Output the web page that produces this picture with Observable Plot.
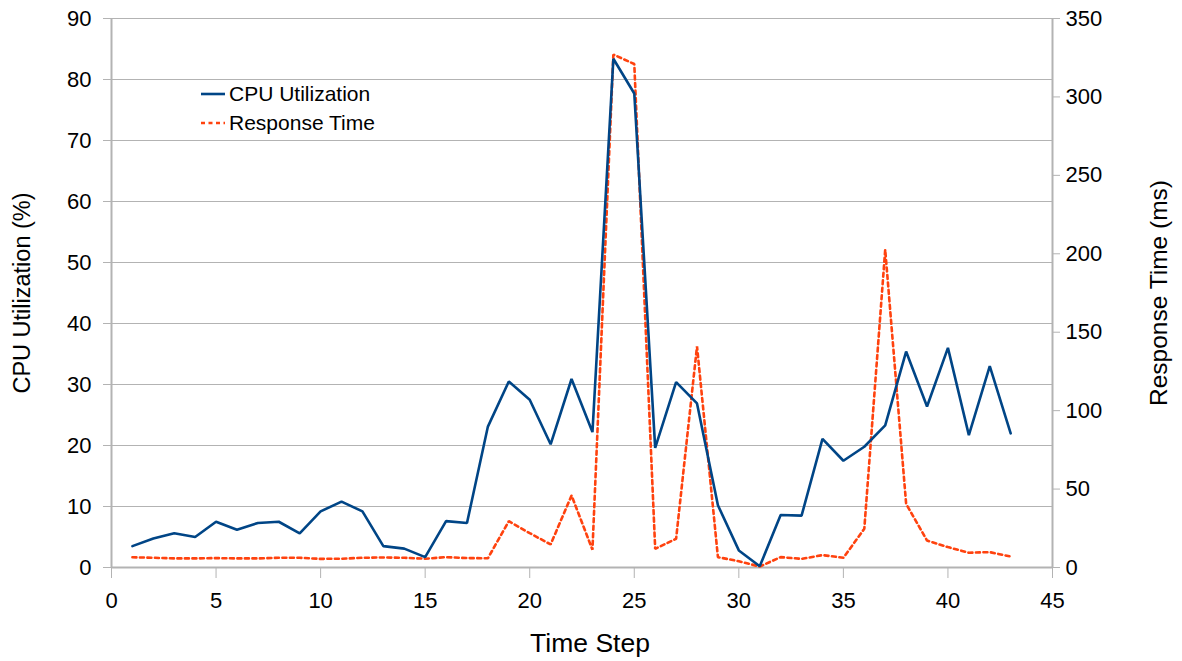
<!DOCTYPE html>
<html>
<head>
<meta charset="utf-8">
<script src="https://cdn.jsdelivr.net/npm/d3@7"></script>
<script src="https://cdn.jsdelivr.net/npm/@observablehq/plot@0.6"></script>
<style>
  html, body { margin: 0; padding: 0; background: #fff; }
  #wrap { position: relative; width: 1182px; height: 661px; font-family: "Liberation Sans", Arial, sans-serif; }
  #legend { position: absolute; left: 201px; top: 79px; font-size: 21px; color: #000; line-height: 29px; }
  #legend div { display: flex; align-items: center; }
  #legend svg { margin-right: 4px; }
</style>
</head>
<body>
<div id="wrap">
  <div id="chart"></div>
  <div id="legend"></div>
</div>
<script>
const timeSteps = d3.range(1, 44);
const cpuUtilization = [3.5, 4.75, 5.6, 5.0, 7.5, 6.2, 7.3, 7.5, 5.6, 9.2,
  10.8, 9.2, 3.5, 3.1, 1.7, 7.6, 7.3, 23.1, 30.5, 27.5,
  20.2, 30.9, 22.2, 83.4, 77.7, 19.6, 30.4, 26.9, 10.2, 2.8,
  0.2, 8.6, 8.5, 21.1, 17.5, 19.8, 23.3, 35.4, 26.4, 36.0,
  21.7, 33.0, 22.0];
const responseTime = [6.5, 6.2, 5.8, 5.8, 6.0, 5.8, 5.8, 6.2, 6.2, 5.5,
  5.6, 6.2, 6.4, 6.2, 5.6, 6.6, 6.0, 5.9, 29.5, 21.9,
  14.7, 45.9, 11.3, 327, 321, 11.9, 18.3, 141, 6.6, 4.0,
  0.6, 6.6, 5.5, 7.9, 6.2, 24.7, 202.6, 40.6, 17.2, 13.0,
  9.4, 9.8, 7.0];
const leftTicks = d3.range(0, 91, 10);
const rightTicks = d3.range(0, 351, 50);
const xTicks = d3.range(0, 46, 5);
const seriesNames = ["CPU Utilization", "Response Time"];
const seriesColors = ["#004586", "#ff420e"];

const yMax = 90, rMax = 350;
const toLeft = v => v * yMax / rMax;

const cpuData = timeSteps.map((t, i) => ({t, v: cpuUtilization[i]}));
const rtData = timeSteps.map((t, i) => ({t, v: toLeft(responseTime[i])}));

const chart = Plot.plot({
  width: 1182,
  height: 661,
  marginLeft: 111,
  marginRight: 130,
  marginTop: 18,
  marginBottom: 94,
  style: {fontFamily: "Liberation Sans, Arial, sans-serif", fontSize: "22px", color: "#000", background: "#fff"},
  x: {domain: [0, 45]},
  y: {domain: [0, yMax]},
  marks: [
    Plot.gridY(leftTicks, {stroke: "#b3b3b3", strokeOpacity: 1, strokeWidth: 1.2}),
    Plot.ruleX([0], {stroke: "#b3b3b3", strokeWidth: 2}),
    Plot.ruleX([45], {stroke: "#b3b3b3", strokeWidth: 2}),
    Plot.ruleY([0], {stroke: "#b3b3b3", strokeWidth: 2}),
    Plot.axisY({ticks: leftTicks, tickSize: 8, tickPadding: 12, stroke: "#b3b3b3", fontSize: 22,
      label: "CPU Utilization (%)", labelAnchor: "center", labelArrow: "none", labelOffset: 98}),
    Plot.axisY({anchor: "right", ticks: rightTicks.map(toLeft), tickFormat: d => Math.round(d * rMax / yMax),
      tickSize: 7, tickPadding: 6, stroke: "#b3b3b3", fontSize: 22,
      label: "Response Time (ms)", labelAnchor: "center", labelArrow: "none", labelOffset: 114}),
    Plot.axisX({ticks: xTicks, tickSize: 11, tickPadding: 14, stroke: "#b3b3b3", fontSize: 22,
      label: "Time Step", labelAnchor: "center", labelArrow: "none", labelOffset: 84}),
    Plot.line(rtData, {x: "t", y: "v", stroke: seriesColors[1], strokeWidth: 2.6, strokeDasharray: "4,3.5", strokeLinejoin: "miter"}),
    Plot.line(cpuData, {x: "t", y: "v", stroke: seriesColors[0], strokeWidth: 2.6, strokeLinejoin: "miter"})
  ]
});
document.getElementById("chart").appendChild(chart);

// axis label font sizes
const yLabels = chart.querySelectorAll("g[aria-label='y-axis label'] text");
if (yLabels[0]) yLabels[0].setAttribute("font-size", 23.5);
if (yLabels[1]) yLabels[1].setAttribute("font-size", 24.5);
chart.querySelectorAll("g[aria-label='x-axis label'] text").forEach(t => {
  t.setAttribute("font-size", 26.5);
  t.setAttribute("dx", 8);
});

const legend = document.getElementById("legend");
seriesNames.forEach((name, i) => {
  const row = document.createElement("div");
  row.innerHTML = `<svg width="24" height="10"><line x1="0" x2="24" y1="5" y2="5" stroke="${seriesColors[i]}" stroke-width="2.6" ${i === 1 ? 'stroke-dasharray="4,3.5"' : ''}/></svg><span>${name}</span>`;
  legend.appendChild(row);
});
</script>
</body>
</html>
